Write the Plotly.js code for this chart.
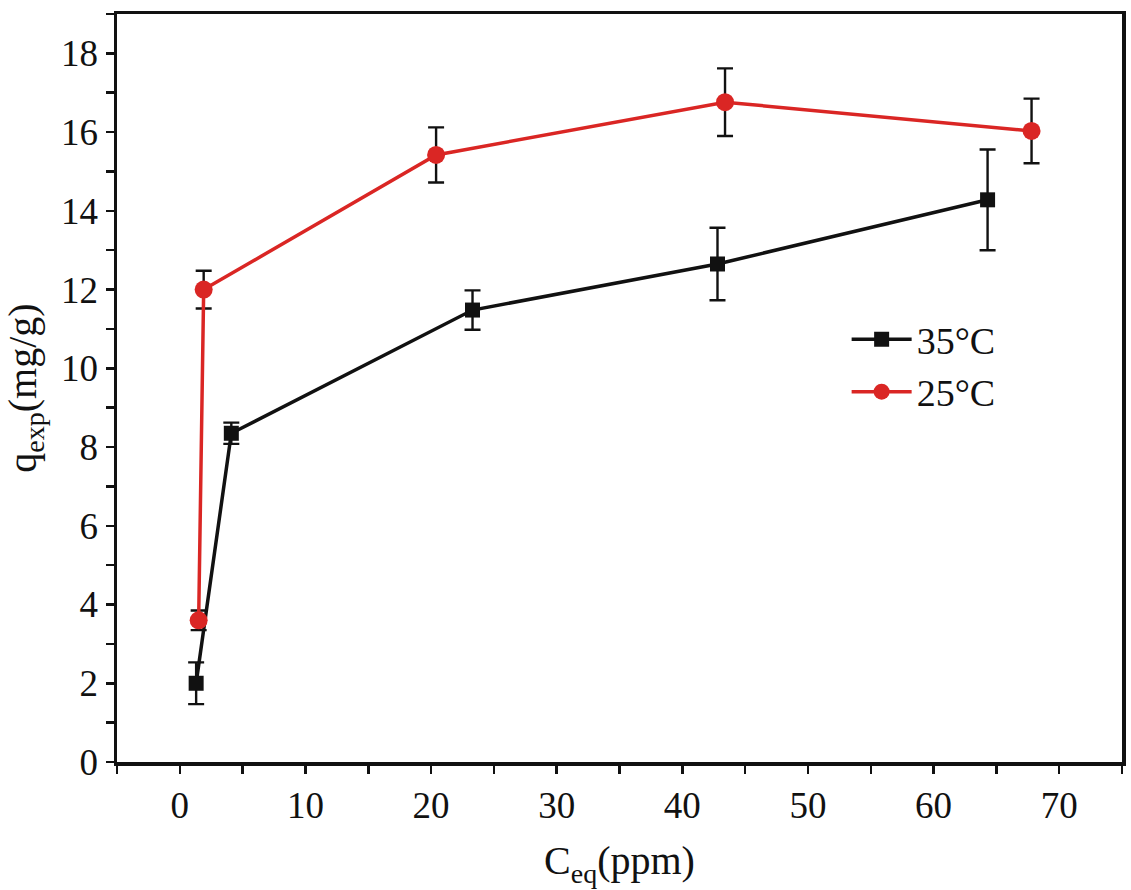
<!DOCTYPE html>
<html>
<head>
<meta charset="utf-8">
<script src="https://cdn.plot.ly/plotly-3.0.1.min.js"></script>
<style>body{margin:0;padding:0;background:#fff;} #chart{width:1131px;height:890px;}</style>
</head>
<body>
<div id="chart"></div>
<script>
// 35°C series
const x35 = [1.3, 4.1, 23.3, 42.8, 64.3];
const y35 = [2.0, 8.35, 11.48, 12.65, 14.28];
const e35 = [0.53, 0.27, 0.5, 0.92, 1.28];
// 25°C series
const x25 = [1.5, 1.9, 20.4, 43.4, 67.8];
const y25 = [3.6, 12.0, 15.42, 16.76, 16.03];
const e25 = [0.25, 0.48, 0.7, 0.86, 0.82];
const names = ["35°C", "25°C"];

const FONT = "'Liberation Serif', 'Times New Roman', Times, serif";
const RED = "rgb(218,38,36)";

const traces = [
  {
    x: x35, y: y35, name: names[0], type: "scatter", mode: "lines+markers",
    line: {color: "#111", width: 3.5},
    marker: {symbol: "square", size: 15, color: "#111"},
    error_y: {type: "data", array: e35, visible: true, color: "#111", thickness: 2.4, width: 8}
  },
  {
    x: x25, y: y25, name: names[1], type: "scatter", mode: "lines+markers",
    line: {color: RED, width: 3.5},
    marker: {symbol: "circle", size: 18, color: RED},
    error_y: {type: "data", array: e25, visible: true, color: "#111", thickness: 2.4, width: 8}
  }
];

const axisCommon = {
  showline: true, linecolor: "#111", linewidth: 3.5, mirror: true,
  ticks: "outside", ticklen: 8, tickwidth: 2.5, tickcolor: "#111",
  showgrid: false, zeroline: false,
  tickfont: {family: FONT, size: 37, color: "#111"}
};

const layout = {
  width: 1131, height: 890,
  margin: {l: 117, r: 9, t: 14, b: 128},
  paper_bgcolor: "#fff", plot_bgcolor: "#fff",
  font: {family: FONT, color: "#111"},
  showlegend: true,
  legend: {
    x: 0.726, y: 0.53, xanchor: "left", yanchor: "middle",
    font: {family: FONT, size: 38, color: "#111"},
    bgcolor: "rgba(0,0,0,0)", tracegroupgap: 0, itemwidth: 60
  },
  xaxis: Object.assign({}, axisCommon, {
    range: [-5, 75], dtick: 10, tick0: 0,
    minor: {dtick: 5, ticks: "outside", ticklen: 8, tickwidth: 2.5, tickcolor: "#111"},
    title: {text: "C<sub>eq</sub>(ppm)", font: {family: FONT, size: 40, color: "#111"}, standoff: 22}
  }),
  yaxis: Object.assign({}, axisCommon, {
    range: [0, 19], dtick: 2, tick0: 0,
    minor: {dtick: 1, ticks: "outside", ticklen: 8, tickwidth: 2.5, tickcolor: "#111"},
    title: {text: "q<sub>exp</sub>(mg/g)", font: {family: FONT, size: 40, color: "#111"}, standoff: 14}
  })
};

Plotly.newPlot("chart", traces, layout, {displayModeBar: false, staticPlot: true});
</script>
</body>
</html>
